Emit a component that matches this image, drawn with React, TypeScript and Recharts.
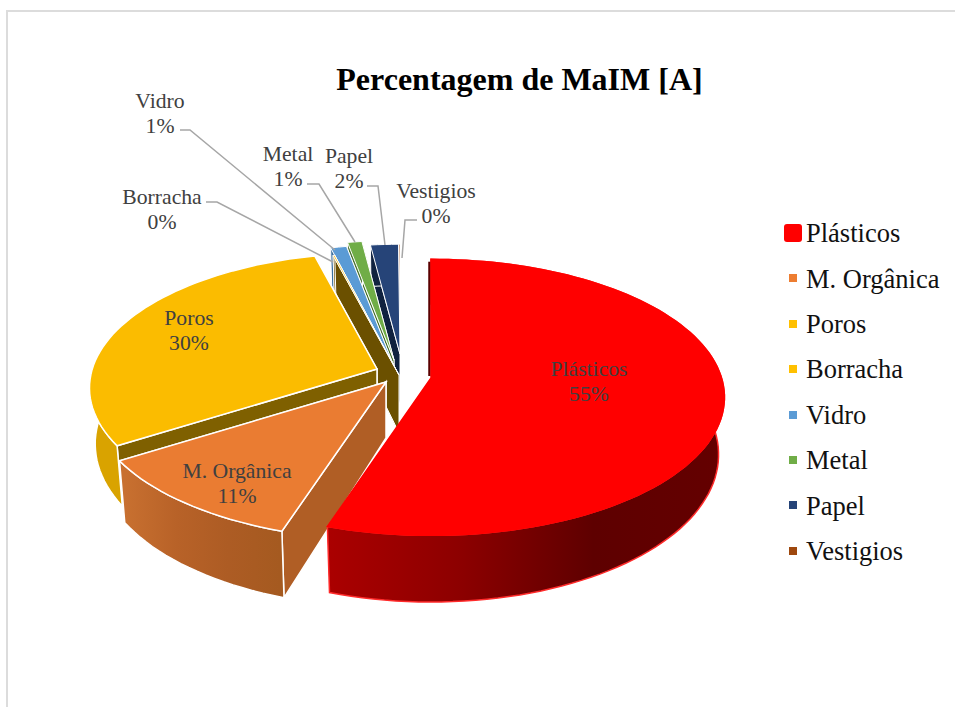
import React from 'react';
import { PieChart, Pie, Legend } from 'recharts';

const names = ['Plásticos', 'M. Orgânica', 'Poros', 'Borracha', 'Vidro', 'Metal', 'Papel', 'Vestigios'];
const shares = [55, 11, 30, 0.1, 1.0, 0.9, 1.9, 0.1];
const fills = ['#ff0000', '#ea7c32', '#fbbc00', '#fbbc00', '#5b9bd5', '#70ad47', '#264478', '#9e480e'];
const legendFills = ['#ff0000', '#ed7d31', '#ffc000', '#ffc000', '#5b9bd5', '#70ad47', '#264478', '#9e480e'];

// explosion of each slice, relative to the pie centre, and its size after perspective
const explode = [[31, 0], [-14, 4], [-23, -9], [-1, -3], [-7, -14], [-6, -18], [0, -24], [0, -24]];
const sizeScale = [0.995, 1, 0.975, 1.03, 1, 1, 0.92, 0.92];
const sideColors = ['#6b0000', '#b05e25', '#7f6000', '#6b5000', '#1f3f66', '#4c7530', '#10223f', '#6b300a'];
const wallStops = [
  ['#aa0000', '#8c0000', '#5e0000', '#640000'],
  ['#c87030', '#b86228', '#ad5c24', '#a55a20'],
  ['#d9a300', '#d9a300', '#d9a300', '#d9a300'],
  ['#6b5000', '#6b5000', '#6b5000', '#6b5000'],
  ['#3a6f9e', '#3a6f9e', '#3a6f9e', '#3a6f9e'],
  ['#4c7530', '#4c7530', '#4c7530', '#4c7530'],
  ['#10223f', '#10223f', '#10223f', '#10223f'],
  ['#6b300a', '#6b300a', '#6b300a', '#6b300a'],
];

// label blocks and their leader lines
const labelPos = [[589, 369], [237, 471], [189, 318], [162, 197], [160, 101], [288, 154], [349, 156], [436, 191]];
const leaders = [
  null,
  null,
  null,
  [[206, 202], [217, 202], [333, 262]],
  [[180, 130], [190, 130], [335, 250]],
  [[307, 184], [319, 184], [355, 242]],
  [[367, 186], [378, 186], [385, 245]],
  [[417, 220], [405, 220], [402, 258]],
];

const CX = 400;
const CY = 378;
const data = names.map((name, i) => ({ name, value: shares[i], fill: legendFills[i], order: i })).reverse();

const rad = (a: number) => (a * Math.PI) / 180;

function topPoint(a: number) {
  const u = -Math.sin(rad(a));
  const w = 1 - 0.14 * u;
  return [(292 * Math.cos(rad(a))) / w, (136 * u) / w];
}

function lowPoint(a: number) {
  const u = -Math.sin(rad(a));
  const [x, y] = topPoint(a);
  return [x * 0.98, y + 56 + 11 * u];
}

function arc(start: number, end: number, fn: (a: number) => number[]) {
  const n = Math.max(2, Math.ceil(Math.abs(end - start) / 2));
  const pts: number[][] = [];
  for (let i = 0; i <= n; i++) pts.push(fn(start + ((end - start) * i) / n));
  return pts;
}

function Slice3D(props: any) {
  const { startAngle, endAngle, payload, cx, cy } = props;
  const i = payload.order;
  const ox = cx + explode[i][0];
  const oy = cy + explode[i][1];
  const k = sizeScale[i];
  const toPath = (pts: number[][]) =>
    'M' + pts.map((p) => `${(p[0] * k + ox).toFixed(1)},${(p[1] * k + oy).toFixed(1)}`).join('L') + 'Z';
  const isRed = i === 0;
  const edge = isRed ? '#ff2a2a' : '#ffffff';
  const sw = i > 2 ? 1 : 1.5;
  const top = arc(startAngle, endAngle, topPoint);
  const low = arc(startAngle, endAngle, lowPoint);
  const apexTop = [0, 0];
  const apexLow = [0, 56];
  const gid = `wall-${i}`;
  const side = (a: number) => [apexTop, topPoint(a), lowPoint(a), apexLow];
  const tip = topPoint(endAngle);
  return (
    <g>
      <defs>
        <linearGradient id={gid} gradientUnits="userSpaceOnUse" x1={isRed ? 330 : 125} x2={isRed ? 725 : 280} y1={0} y2={0}>
          {wallStops[i].map((c, n) => (
            <stop key={n} offset={n / 3} stopColor={c} />
          ))}
        </linearGradient>
      </defs>
      <path d={toPath(side(startAngle))} fill={sideColors[i]} stroke={isRed ? 'none' : edge} strokeWidth={sw} />
      <path d={toPath(side(endAngle))} fill={sideColors[i]} stroke={isRed ? 'none' : edge} strokeWidth={sw} />
      <path d={toPath([...top, ...low.slice().reverse()])} fill={`url(#${gid})`} stroke={edge} strokeWidth={sw} />
      {isRed && <path d={`M${ox - 1.5},${oy + tip[1] + 3}L${ox - 1.5},${oy - 2}`} stroke="#5a0000" strokeWidth={2.5} fill="none" />}
      <path d={toPath([apexTop, ...top])} fill={fills[i]} stroke={isRed ? '#ff0000' : edge} strokeWidth={sw} />
    </g>
  );
}

function SliceLabel(props: any) {
  const { payload, percent } = props;
  const i = payload.order;
  const [x, y] = labelPos[i];
  const line = leaders[i];
  return (
    <g>
      {line && <polyline points={line.map((p) => p.join(',')).join(' ')} fill="none" stroke="#a6a6a6" strokeWidth={1.5} />}
      <text x={x} y={y} textAnchor="middle" dominantBaseline="central" fontFamily="Liberation Serif" fontSize={21.7} fill="#404040">
        <tspan x={x}>{payload.name}</tspan>
        <tspan x={x} dy={24.5}>{`${Math.round(percent * 100)}%`}</tspan>
      </text>
    </g>
  );
}

function LegendList({ payload }: any) {
  const items = names.map((n) => (payload || []).find((p: any) => p.value === n)).filter(Boolean);
  return (
    <div style={{ fontFamily: 'Liberation Serif', fontSize: 26.5, color: '#111111' }}>
      {items.map((it: any, i: number) => (
        <div key={it.value} style={{ height: 45.4, display: 'flex', alignItems: 'center', position: 'relative', paddingLeft: 22 }}>
          <span
            style={
              i === 0
                ? { position: 'absolute', left: 0, top: 13, width: 18, height: 18, borderRadius: 3, background: it.color }
                : { position: 'absolute', left: 5, top: 18, width: 8, height: 8, background: it.color }
            }
          />
          {it.value}
        </div>
      ))}
    </div>
  );
}

export default function App() {
  return (
    <div style={{ position: 'absolute', left: 0, top: 0, width: 955, height: 707, overflow: 'hidden', background: '#ffffff' }}>
      <div style={{ position: 'absolute', left: 6, top: 10, width: 960, height: 710, borderLeft: '2px solid #dcdcdc', borderTop: '2px solid #dcdcdc' }} />
      <div
        style={{
          position: 'absolute',
          left: 0,
          width: 1039,
          top: 59,
          textAlign: 'center',
          fontFamily: 'Liberation Serif',
          fontWeight: 'bold',
          fontSize: 32,
          lineHeight: '40px',
          color: '#000000',
        }}
      >
        Percentagem de MaIM [A]
      </div>
      <div style={{ position: 'absolute', left: 0, top: 0 }}>
        <PieChart width={955} height={707} margin={{ top: 0, right: 0, bottom: 0, left: 0 }}>
          <Pie
            data={data}
            dataKey="value"
            nameKey="name"
            cx={CX}
            cy={CY}
            outerRadius={290}
            startAngle={90}
            endAngle={450}
            paddingAngle={0}
            shape={Slice3D}
            label={SliceLabel}
            labelLine={false}
            isAnimationActive={false}
          />
          <Legend
            layout="vertical"
            content={LegendList}
            wrapperStyle={{ position: 'absolute', left: 784, top: 211, width: 170, bottom: 'auto', right: 'auto' }}
          />
        </PieChart>
      </div>
    </div>
  );
}
